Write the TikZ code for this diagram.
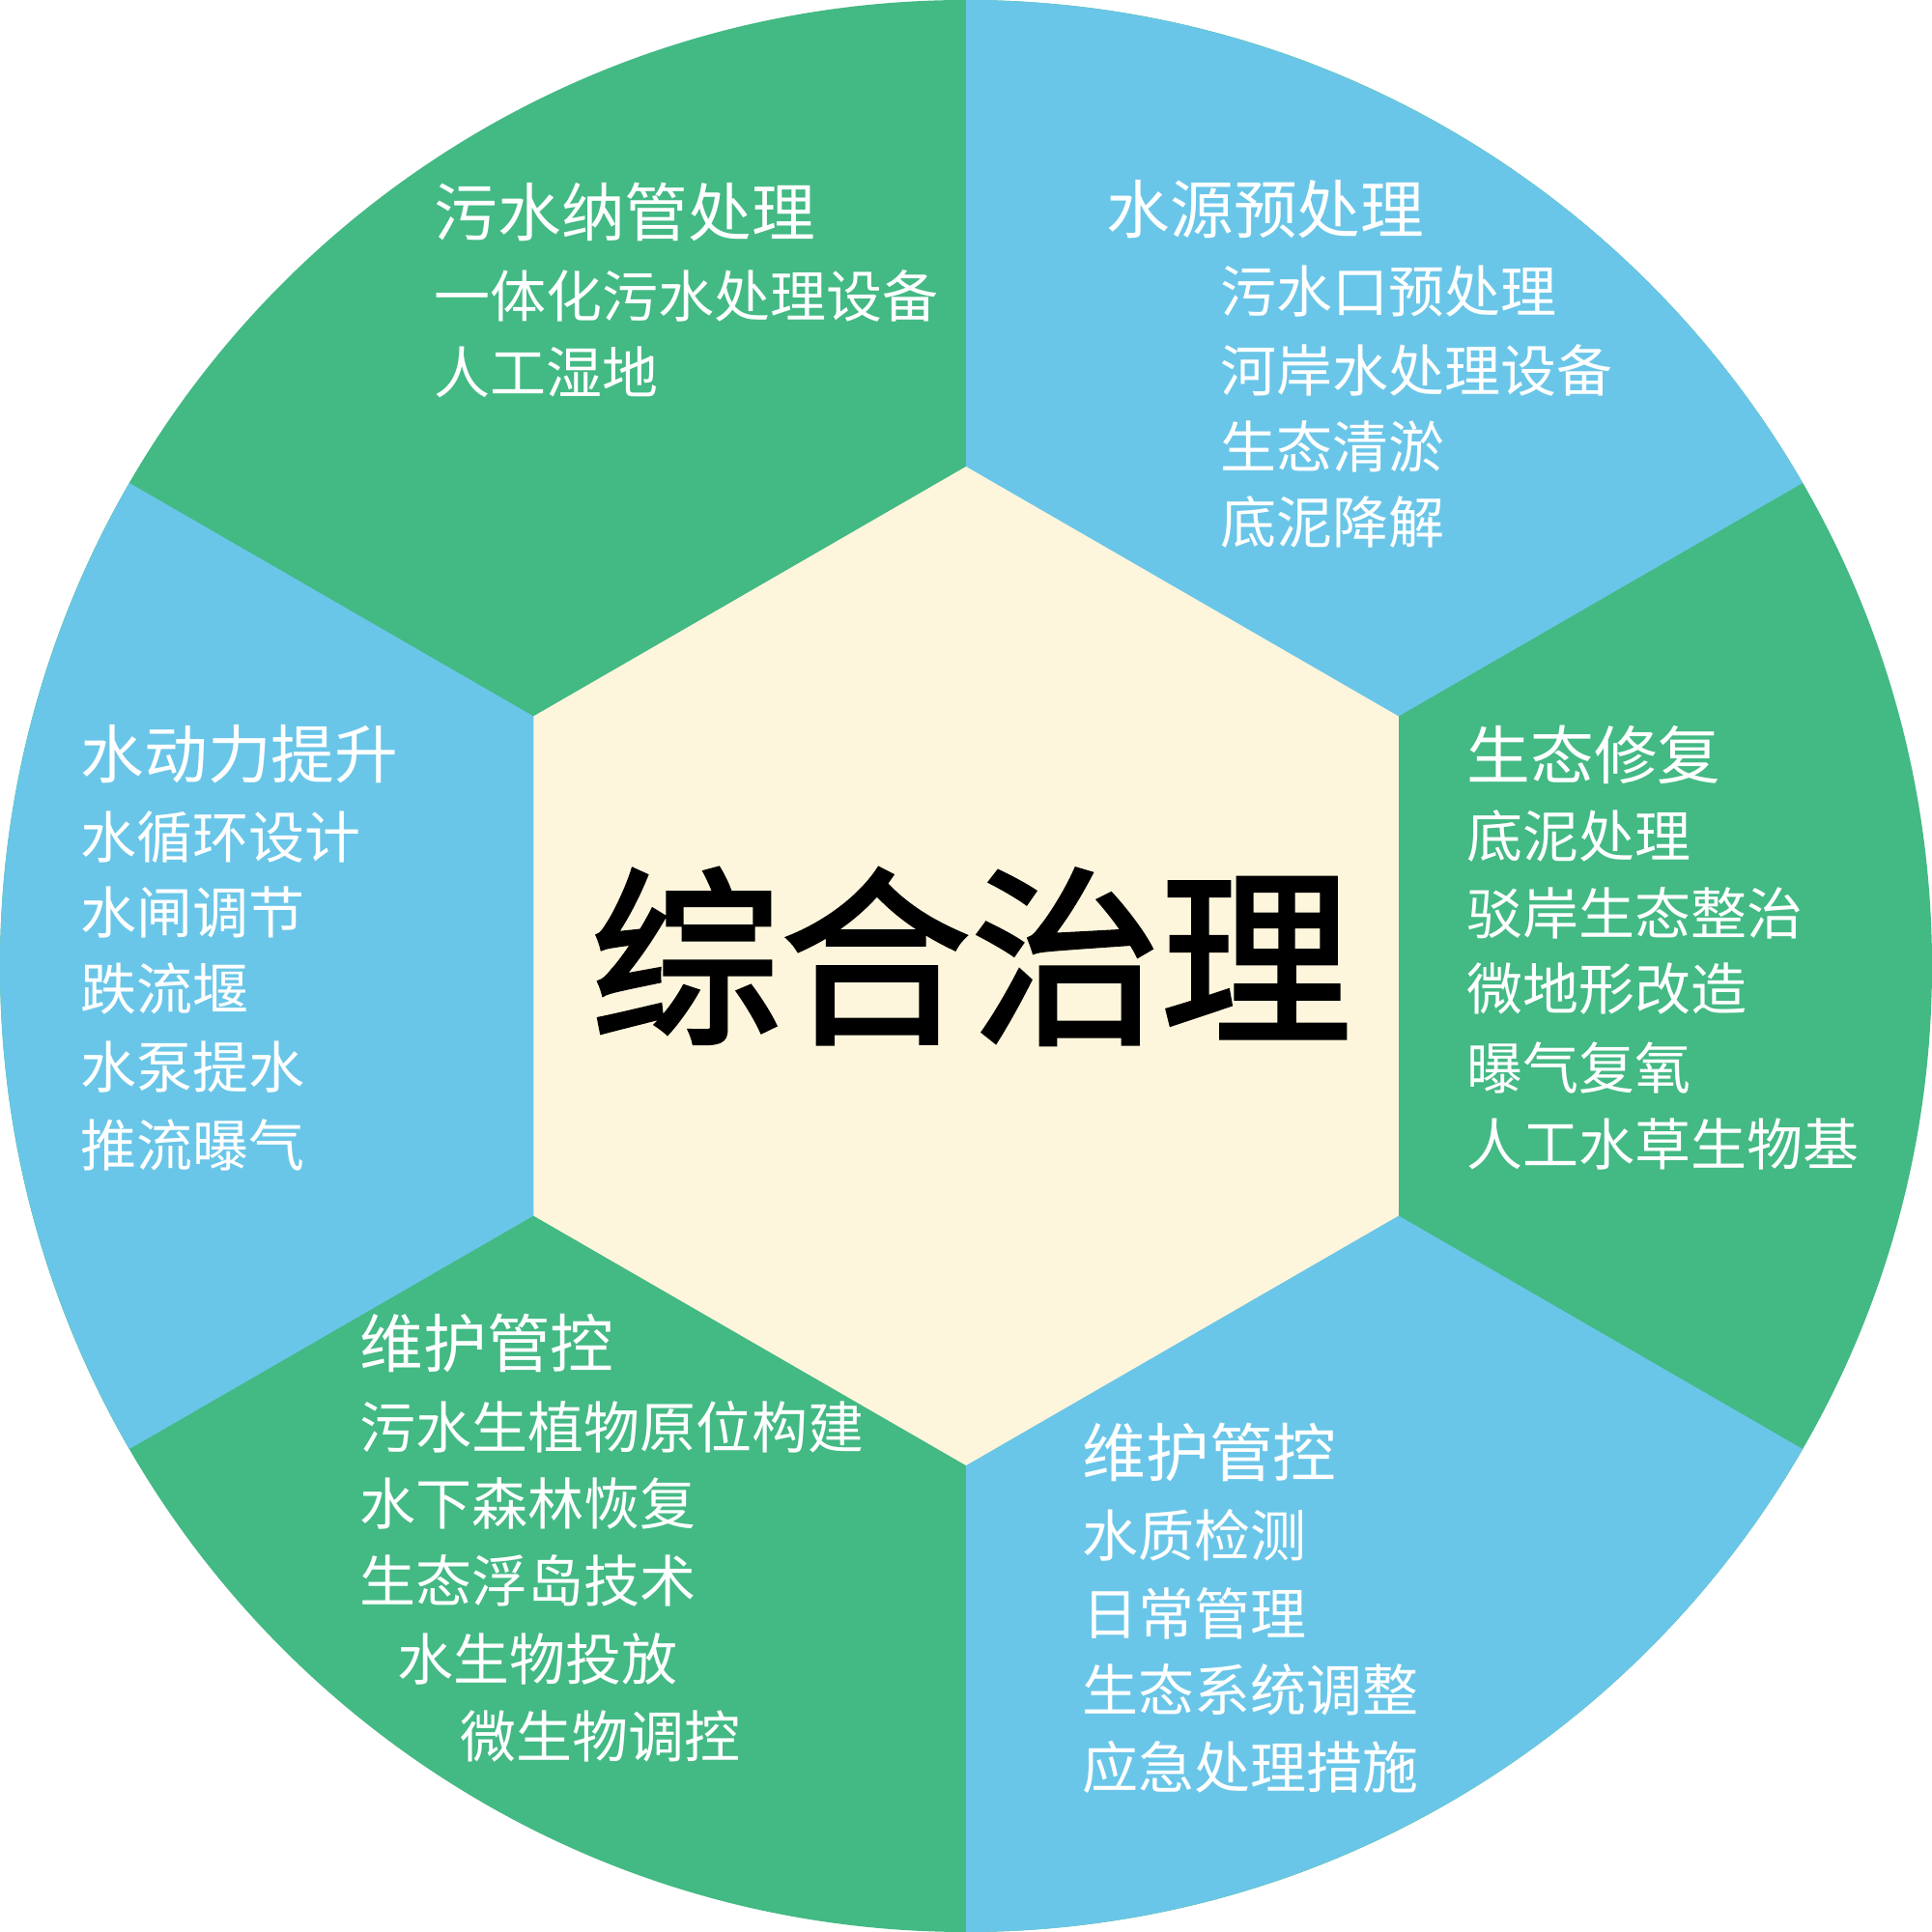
\documentclass[tikz,border=0pt]{standalone}
\usepackage{fontspec}
\newfontfamily\cjk{Noto Sans CJK SC}
\newfontfamily\cjkc[FakeBold=2.2]{Noto Sans CJK SC}
\definecolor{greenC}{HTML}{43B984}
\definecolor{blueC}{HTML}{6AC6E8}
\definecolor{creamC}{HTML}{FEF6DC}
\begin{document}
\begin{tikzpicture}
\tikzset{
  item/.style={anchor=west, inner sep=0pt, text=white, font=\cjk\fontsize{16.5pt}{18pt}\selectfont},
  ttl/.style={anchor=west, inner sep=0pt, text=white, font=\cjk\fontsize{18.7pt}{20pt}\selectfont},
  center/.style={anchor=center, inner sep=0pt, text=black, font=\cjkc\fontsize{56pt}{60pt}\selectfont}
}
\fill[white] (0,0) rectangle (20,20);
\useasboundingbox (0,0) rectangle (20,20);
% wheel
\fill[greenC] (10,10) circle[radius=10];
\fill[blueC] (10,10) -- ++(30:10) arc[start angle=30,end angle=90,radius=10] -- cycle;
\fill[blueC] (10,10) -- ++(150:10) arc[start angle=150,end angle=210,radius=10] -- cycle;
\fill[blueC] (10,10) -- ++(270:10) arc[start angle=270,end angle=330,radius=10] -- cycle;
% hexagon
\fill[creamC, shift={(10,10)}] (90:5.17) -- (150:5.17) -- (210:5.17) -- (270:5.17) -- (330:5.17) -- (30:5.17) -- cycle;
% center
\node[center] (c) at (10.05,10.1) {综合治理};
% top-left
\node[ttl]  (tl0) at (4.49,17.81) {污水纳管处理};
\node[item] (tl1) at (4.49,16.94) {一体化污水处理设备};
\node[item] (tl2) at (4.49,16.15) {人工湿地};
% top-right
\node[ttl]  (tr0) at (11.45,17.83) {水源预处理};
\node[item] (tr1) at (12.63,16.98) {污水口预处理};
\node[item] (tr2) at (12.63,16.17) {河岸水处理设备};
\node[item] (tr3) at (12.63,15.38) {生态清淤};
\node[item] (tr4) at (12.63,14.59) {底泥降解};
% left
\node[ttl]  (l0) at (0.83,12.19) {水动力提升};
\node[item] (l1) at (0.83,11.33) {水循环设计};
\node[item] (l2) at (0.83,10.55) {水闸调节};
\node[item] (l3) at (0.83,9.76) {跌流堰};
\node[item] (l4) at (0.83,8.95) {水泵提水};
\node[item] (l5) at (0.83,8.15) {推流曝气};
% right
\node[ttl]  (r0) at (15.18,12.19) {生态修复};
\node[item] (r1) at (15.18,11.34) {底泥处理};
\node[item] (r2) at (15.18,10.55) {驳岸生态整治};
\node[item] (r3) at (15.18,9.76) {微地形改造};
\node[item] (r4) at (15.18,8.95) {曝气复氧};
\node[item] (r5) at (15.18,8.15) {人工水草生物基};
% bottom-left
\node[ttl]  (bl0) at (3.72,6.10) {维护管控};
\node[item] (bl1) at (3.72,5.23) {污水生植物原位构建};
\node[item] (bl2) at (3.72,4.44) {水下森林恢复};
\node[item] (bl3) at (3.72,3.64) {生态浮岛技术};
\node[item] (bl4) at (4.11,2.83) {水生物投放};
\node[item] (bl5) at (4.76,2.03) {微生物调控};
% bottom-right
\node[ttl]  (br0) at (11.20,4.97) {维护管控};
\node[item] (br1) at (11.20,4.11) {水质检测};
\node[item] (br2) at (11.20,3.30) {日常管理};
\node[item] (br3) at (11.20,2.51) {生态系统调整};
\node[item] (br4) at (11.20,1.71) {应急处理措施};
\end{tikzpicture}
\end{document}
